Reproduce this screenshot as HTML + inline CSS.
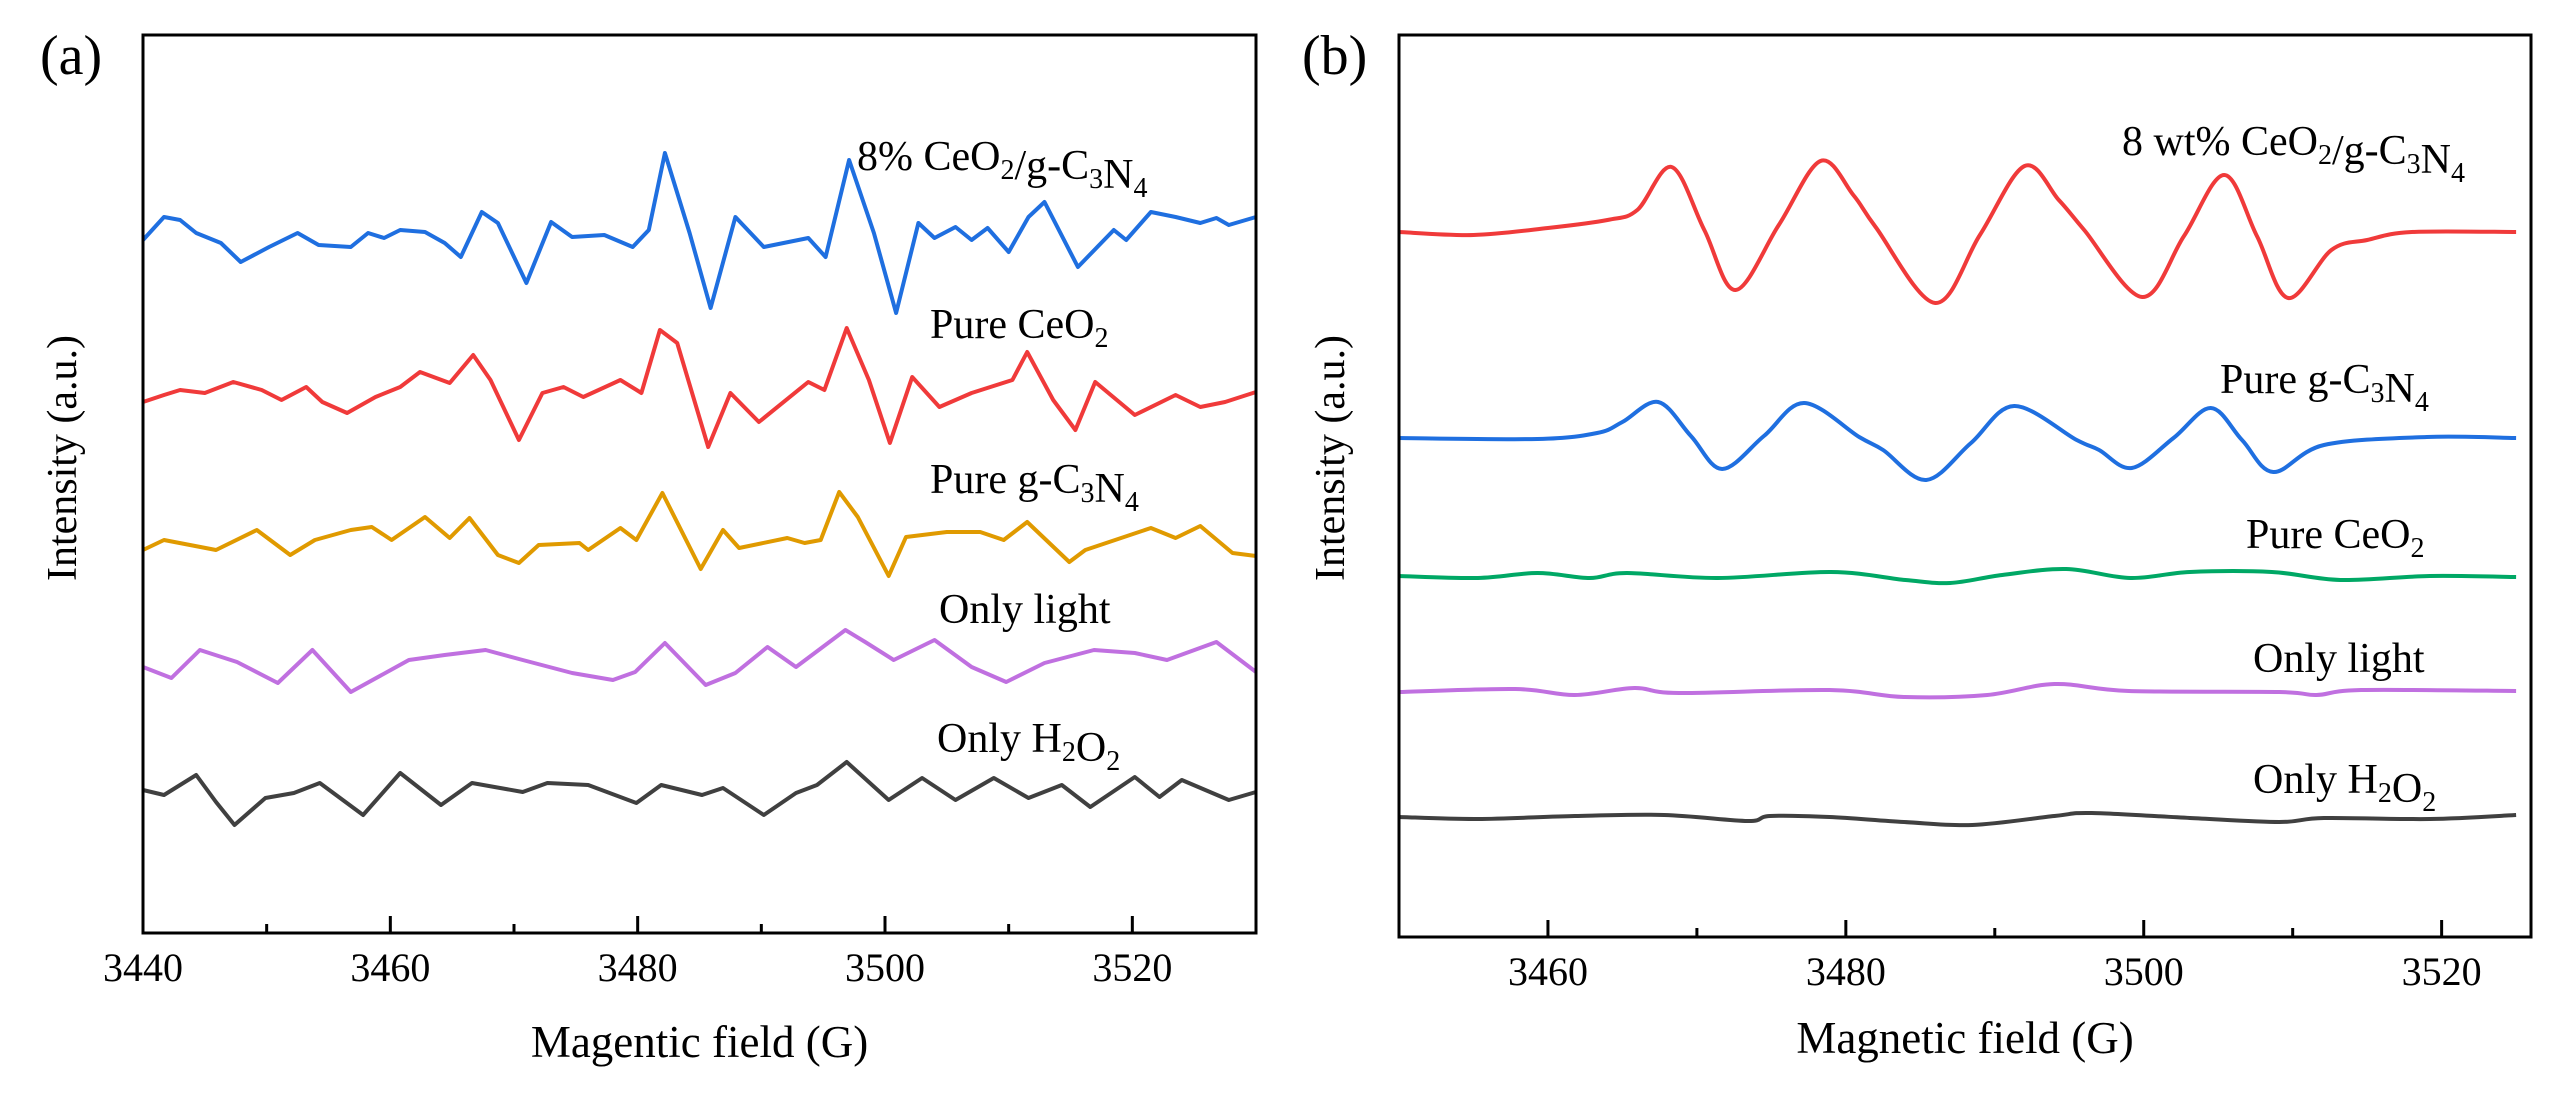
<!DOCTYPE html>
<html><head><meta charset="utf-8"><style>
html,body{margin:0;padding:0;background:#fff;}
svg{display:block;font-family:"Liberation Serif","Times New Roman",serif;}
</style></head><body>
<svg id="fig" width="2555" height="1093" viewBox="0 0 2555 1093" xmlns="http://www.w3.org/2000/svg">
<g id="pa"></g>
<g id="pb"></g>
</svg>
<script>
// ---------- Panel (a) data ----------
const aTicks = [3440, 3460, 3480, 3500, 3520];
const aMinor = [3450, 3470, 3490, 3510];
const aBlueX = [3440.0,3441.7,3443.0,3444.3,3446.3,3447.9,3450.2,3452.5,3454.2,3456.8,3458.2,3459.5,3460.8,3462.8,3464.4,3465.7,3467.4,3468.7,3471.0,3473.0,3474.7,3477.3,3479.6,3480.9,3482.2,3484.2,3485.9,3487.9,3490.2,3493.8,3495.2,3497.1,3499.1,3500.9,3502.7,3504.0,3505.7,3507.0,3508.3,3510.0,3511.6,3512.9,3515.6,3518.5,3519.5,3521.5,3523.5,3525.5,3526.8,3527.8,3530.0];
const aBlueY = [693,716,713,700,690,671,686,700,688,686,700,695,703,701,690,676,721,710,650,711,696,698,686,703,780,700,625,716,686,695,676,773,700,620,710,695,706,693,705,681,716,731,666,703,693,721,716,710,715,708,716];
const aRedX = [3440.0,3441.7,3443.0,3445.0,3447.3,3449.6,3451.2,3453.2,3454.5,3456.5,3458.8,3460.8,3462.4,3464.8,3466.7,3468.1,3470.4,3472.3,3474.0,3475.6,3478.6,3480.3,3481.8,3483.2,3485.7,3487.5,3489.8,3493.8,3495.1,3496.9,3498.7,3500.4,3502.2,3504.4,3507.0,3510.3,3511.5,3513.6,3515.4,3517.0,3520.2,3523.5,3525.5,3527.5,3530.0];
const aRedY = [531,538,543,540,551,543,533,546,531,520,536,546,561,550,578,553,493,540,546,536,553,540,603,590,486,540,511,551,543,605,553,490,556,526,540,553,581,533,503,551,518,538,526,531,541];
const aOrangeX = [3440.0,3441.7,3445.9,3449.2,3451.9,3453.9,3456.8,3458.5,3460.1,3462.8,3464.8,3466.4,3468.7,3470.4,3472.0,3475.3,3476.0,3478.6,3479.9,3482.0,3485.1,3486.9,3488.2,3492.1,3493.5,3494.8,3496.3,3497.8,3500.3,3501.7,3505.0,3507.7,3509.6,3511.5,3514.9,3516.2,3521.5,3523.5,3525.5,3528.1,3530.0];
const aOrangeY = [383,393,383,403,378,393,403,406,393,416,395,415,378,370,388,390,383,405,393,440,364,403,385,395,390,393,441,416,357,396,401,401,393,411,371,383,405,395,407,380,377];
const aPurpleX = [3440.0,3442.3,3444.6,3447.6,3450.9,3453.7,3456.8,3461.5,3464.4,3467.7,3470.7,3474.7,3478.0,3479.8,3482.2,3485.5,3487.9,3490.5,3492.8,3496.8,3498.4,3500.7,3504.0,3507.0,3509.8,3512.9,3516.9,3520.2,3522.8,3526.8,3530.0];
const aPurpleY = [266,255,283,271,250,283,241,273,278,283,273,260,253,261,290,248,260,286,266,303,291,273,293,266,251,270,283,280,273,291,261];
const aBlackX = [3440.0,3441.7,3444.3,3445.9,3447.4,3449.9,3452.2,3454.3,3457.8,3460.8,3464.1,3466.6,3470.7,3472.7,3476.0,3479.9,3481.9,3485.2,3486.9,3490.2,3492.8,3494.5,3496.9,3500.3,3503.0,3505.7,3508.8,3511.6,3514.3,3516.6,3520.2,3522.2,3524.0,3527.8,3530.0];
const aBlackY = [143,138,158,131,108,135,140,150,118,160,128,150,141,150,148,130,148,138,145,118,140,148,171,133,155,133,155,135,148,126,156,136,153,133,141];

// ---------- Panel (b) data ----------
const bTicks = [3460, 3480, 3500, 3520];
const bMinor = [3470, 3490, 3510];
const bRedX = [3450,3455,3460,3464,3466,3468.3,3470.5,3472.6,3475.5,3478.3,3480.5,3482,3486,3489,3492,3494.3,3496,3499.9,3502.7,3505.4,3507.6,3509.7,3512.6,3515,3518,3525];
const bRedY = [705,702,709,717,727,770,707,647,712,776,742,710,634,702,771,737,707,640,701,762,701,639,687,697,705,705];
const bBlueX = [3450,3459.3,3463.3,3465,3467.4,3469.6,3471.7,3474.5,3477.2,3480.9,3482.5,3485.4,3488.4,3491.3,3495.5,3497,3499.2,3502,3504.5,3506.6,3508.7,3512.1,3519,3525];
const bBlueY = [499,498,504,515,535,501,468,501,534,500,487,457,494,531,497,487,469,499,529,497,465,492,500,499];
const bGreenX = [3450,3455.3,3459.3,3462.8,3465.3,3471.4,3479,3484,3487,3490.5,3494.8,3499.1,3503.1,3508.6,3513.2,3519.2,3525];
const bGreenY = [361,359,364,359,364,359,365,357,354,362,368,359,365,365,357,361,360];
const bPurpleX = [3450,3457.8,3461.8,3465.8,3468.8,3478.9,3483.9,3489.5,3494.0,3499.0,3509.1,3511.6,3514.6,3525];
const bPurpleY = [245,248,242,249,244,247,240,242,253,246,245,242,247,246];
const bBlackX = [3450,3455.3,3461.8,3467.8,3473.4,3474.9,3478.9,3483.9,3488.5,3494.0,3496.5,3503.1,3509.1,3512.1,3519.2,3525];
const bBlackY = [120,118,121,122,116,121,120,115,112,121,124,119,115,119,118,122];

const NS = "http://www.w3.org/2000/svg";
function mk(parent, tag, attrs) {
  const e = document.createElementNS(NS, tag);
  for (const k in attrs) e.setAttribute(k, attrs[k]);
  parent.appendChild(e);
  return e;
}
function linScale(d0, d1, r0, r1) { return v => r0 + (v - d0) * (r1 - r0) / (d1 - d0); }

function catmull(pts) {
  let d = "M" + pts[0][0].toFixed(1) + "," + pts[0][1].toFixed(1);
  for (let i = 0; i < pts.length - 1; i++) {
    const p0 = pts[i - 1] || pts[i], p1 = pts[i], p2 = pts[i + 1], p3 = pts[i + 2] || p2;
    const c1 = [p1[0] + (p2[0] - p0[0]) / 6, p1[1] + (p2[1] - p0[1]) / 6];
    const c2 = [p2[0] - (p3[0] - p1[0]) / 6, p2[1] - (p3[1] - p1[1]) / 6];
    d += " C" + c1[0].toFixed(1) + "," + c1[1].toFixed(1) + " " + c2[0].toFixed(1) + "," + c2[1].toFixed(1) + " " + p2[0].toFixed(1) + "," + p2[1].toFixed(1);
  }
  return d;
}

function drawPanel(g, cfg) {
  const L = cfg.left, R = cfg.right, T = cfg.top, B = cfg.bottom;
  const xs = linScale(cfg.xmin, cfg.xmax, L, R);
  const ys = linScale(0, B - T, B, T);
  cfg.series.forEach(s => {
    const pts = s.x.map((v, i) => [xs(v), ys(s.y[i])]);
    const p = mk(g, "path", {d: s.smooth ? catmull(pts) : "M" + pts.map(p => p[0].toFixed(1) + "," + p[1].toFixed(1)).join(" L"),
      fill: "none", stroke: s.color, "stroke-width": 4, "stroke-linejoin": "round"});
    
    
  });
  const frame = mk(g, "rect", {x: L, y: T, width: R - L, height: B - T, fill: "none", stroke: "#000", "stroke-width": 3});
  
  
  cfg.ticks.forEach(t => {
    const tk = mk(g, "line", {x1: xs(t), x2: xs(t), y1: B, y2: B - 17, stroke: "#000", "stroke-width": 3});
    
    
    const tl = mk(g, "text", {x: xs(t), y: B + 48, "font-size": 40, "text-anchor": "middle"});
    tl.textContent = t;
    
    
  });
  cfg.minor.forEach(t => {
    const tk = mk(g, "line", {x1: xs(t), x2: xs(t), y1: B, y2: B - 9, stroke: "#000", "stroke-width": 3});
    
    
  });
  const xt = mk(g, "text", {x: (L + R) / 2, y: cfg.titleY, "font-size": 45, "text-anchor": "middle"});
  xt.textContent = cfg.xtitle;
  
  
  const yt = mk(g, "text", {x: 0, y: 0, "font-size": 42, "text-anchor": "middle", transform: "translate(" + (cfg.ytitleX) + ",458) rotate(-90)"});
  yt.textContent = "Intensity (a.u.)";
  
  
  const pl = mk(g, "text", {x: cfg.letterX, y: 74, "font-size": 56});
  pl.textContent = cfg.letter;
  
  
  cfg.labels.forEach(lb => {
    const t = mk(g, "text", {x: lb[0], y: lb[1], "font-size": 42});
    t.innerHTML = lb[2];
    
    
  });
}

const sub = v => '<tspan font-size="28" dy="9">' + v + '</tspan><tspan dy="-9"></tspan>';

drawPanel(document.getElementById("pa"), {
  left: 143, right: 1256, top: 35, bottom: 933, xmin: 3440, xmax: 3530,
  ticks: aTicks, minor: aMinor, xtitle: "Magentic field (G)", titleY: 1057, ytitleX: 76,
  letter: "(a)", letterX: 40,
  series: [
    {name: "series-8pct-ceo2-gc3n4", color: "#1f6fe0", x: aBlueX, y: aBlueY},
    {name: "series-pure-ceo2", color: "#f03a3a", x: aRedX, y: aRedY},
    {name: "series-pure-gc3n4", color: "#e09a00", x: aOrangeX, y: aOrangeY},
    {name: "series-only-light", color: "#c070e0", x: aPurpleX, y: aPurpleY},
    {name: "series-only-h2o2", color: "#404040", x: aBlackX, y: aBlackY}
  ],
  labels: [
    [857, 170, "8% CeO" + sub(2) + "/g-C" + sub(3) + "N" + sub(4)],
    [930, 338, "Pure CeO" + sub(2)],
    [930, 493, "Pure g-C" + sub(3) + "N" + sub(4)],
    [939, 623, "Only light"],
    [937, 752, "Only H" + sub(2) + "O" + sub(2)]
  ]
});

drawPanel(document.getElementById("pb"), {
  left: 1399, right: 2531, top: 35, bottom: 937, xmin: 3450, xmax: 3526,
  ticks: bTicks, minor: bMinor, xtitle: "Magnetic field (G)", titleY: 1053, ytitleX: 1344,
  letter: "(b)", letterX: 1302,
  series: [
    {name: "series-8wt-ceo2-gc3n4", color: "#f03a3a", x: bRedX, y: bRedY, smooth: true},
    {name: "series-pure-gc3n4", color: "#1f6fe0", x: bBlueX, y: bBlueY, smooth: true},
    {name: "series-pure-ceo2", color: "#00a865", x: bGreenX, y: bGreenY, smooth: true},
    {name: "series-only-light", color: "#c070e0", x: bPurpleX, y: bPurpleY, smooth: true},
    {name: "series-only-h2o2", color: "#404040", x: bBlackX, y: bBlackY, smooth: true}
  ],
  labels: [
    [2122, 155, "8 wt% CeO" + sub(2) + "/g-C" + sub(3) + "N" + sub(4)],
    [2220, 393, "Pure g-C" + sub(3) + "N" + sub(4)],
    [2246, 548, "Pure CeO" + sub(2)],
    [2253, 672, "Only light"],
    [2253, 793, "Only H" + sub(2) + "O" + sub(2)]
  ]
});
</script>
</body></html>
